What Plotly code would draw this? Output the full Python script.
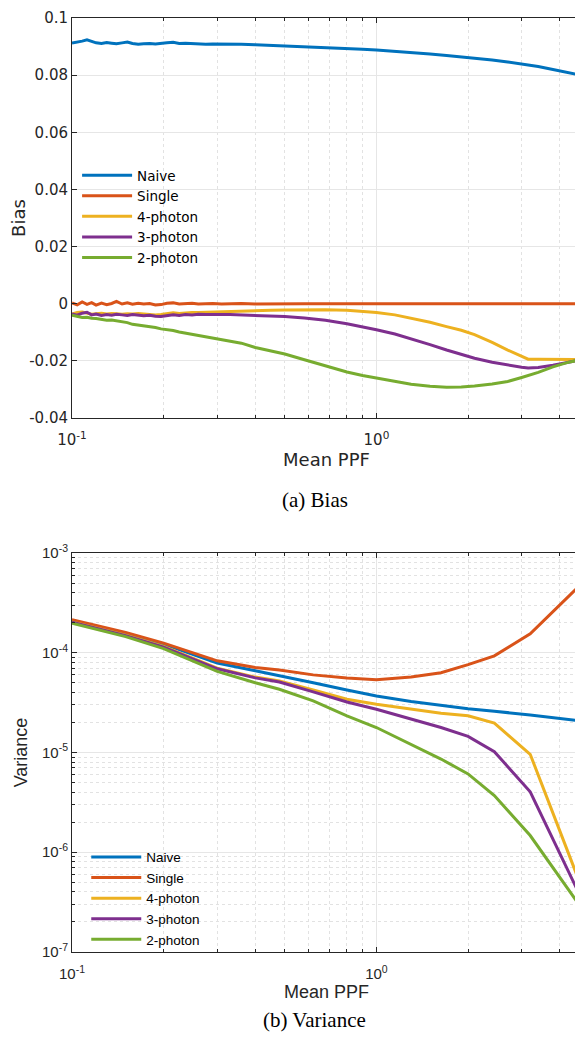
import plotly.graph_objects as go
from plotly.subplots import make_subplots

# ---- data ----
series_names = ['Naive', 'Single', '4-photon', '3-photon', '2-photon']
series_colors = ['#0072BD', '#D95319', '#EDB120', '#7E2F8E', '#77AC30']

# (a) Bias vs mean PPF
ppf_bias = [0.100, 0.104, 0.108, 0.112, 0.116, 0.120, 0.125, 0.130, 0.135,
            0.140, 0.146, 0.152, 0.158, 0.165, 0.172, 0.180, 0.188, 0.196,
            0.205, 0.215, 0.225, 0.236, 0.248, 0.26, 0.275, 0.29, 0.31,
            0.33, 0.36, 0.4, 0.45, 0.5, 0.58, 0.68, 0.8, 0.9, 1.0, 1.15,
            1.3, 1.5, 1.7, 1.9, 2.1, 2.4, 2.7, 3.0, 3.15, 3.4, 3.8, 4.2, 4.7]

bias_naive = [0.0912, 0.0915, 0.0919, 0.0924, 0.0917, 0.0913, 0.0911, 0.0914,
              0.0912, 0.0910, 0.0913, 0.0916, 0.0911, 0.0908, 0.0910, 0.0911,
              0.0909, 0.0910, 0.0913, 0.0915, 0.0911, 0.0912, 0.0910, 0.0909,
              0.0908, 0.0909, 0.0909, 0.0908, 0.0908, 0.0906, 0.0904, 0.0903,
              0.0901, 0.0898, 0.0894, 0.0891, 0.0888, 0.0884, 0.0880, 0.0874,
              0.0869, 0.0864, 0.0860, 0.0853, 0.0846, 0.0839, 0.0836, 0.0830,
              0.0820, 0.0811, 0.0800]
bias_single = [0.0003, -0.0004, 0.0006, -0.0002, 0.0004, -0.0005, 0.0002,
               -0.0003, 0.0001, 0.0008, -0.0001, 0.0003, -0.0002, 0.0002,
               -0.0001, 0.0001, -0.0004, -0.0003, 0.0002, 0.0003, -0.0001,
               0.0001, 0.0002, -0.0001, 0.0000, 0.0001, -0.0001, 0.0000,
               0.0001, -0.0001, 0.0000, 0.0001, 0.0, 0.0, 0.0, 0.0, 0.0,
               0.0, 0.0, 0.0, 0.0, 0.0, 0.0, 0.0, 0.0, 0.0, 0.0, 0.0, 0.0,
               0.0, 0.0]
bias_4ph = [-0.0036, -0.0031, -0.0029, -0.0034, -0.0037, -0.0035, -0.0033,
            -0.0036, -0.0034, -0.0035, -0.0037, -0.0035, -0.0036, -0.0034,
            -0.0036, -0.0037, -0.0039, -0.0038, -0.0034, -0.0032, -0.0034,
            -0.0032, -0.0031, -0.0031, -0.0030, -0.0029, -0.0028, -0.0027,
            -0.0026, -0.0024, -0.0023, -0.0022, -0.0021, -0.0021, -0.0023,
            -0.0026, -0.0031, -0.0039, -0.0050, -0.0065, -0.0080, -0.0093,
            -0.0108, -0.0135, -0.0162, -0.0185, -0.0194, -0.0194, -0.0195,
            -0.0195, -0.0195]
bias_3ph = [-0.0036, -0.0040, -0.0033, -0.0030, -0.0039, -0.0036, -0.0041,
            -0.0038, -0.0040, -0.0037, -0.0039, -0.0041, -0.0038, -0.0040,
            -0.0042, -0.0040, -0.0044, -0.0045, -0.0043, -0.0039, -0.0041,
            -0.0038, -0.0039, -0.0037, -0.0038, -0.0037, -0.0038, -0.0038,
            -0.0039, -0.0040, -0.0042, -0.0045, -0.0050, -0.0058, -0.0070,
            -0.0080, -0.0091, -0.0106, -0.0122, -0.0143, -0.0162, -0.0178,
            -0.0191, -0.0205, -0.0215, -0.0222, -0.0225, -0.0223, -0.0215,
            -0.0206, -0.0196]
bias_2ph = [-0.0040, -0.0045, -0.0048, -0.0047, -0.0051, -0.0052, -0.0055,
            -0.0058, -0.0057, -0.0060, -0.0061, -0.0066, -0.0072, -0.0075,
            -0.0077, -0.0079, -0.0083, -0.0088, -0.0090, -0.0094, -0.0099,
            -0.0103, -0.0108, -0.0112, -0.0118, -0.0122, -0.0127, -0.0132,
            -0.0138, -0.0153, -0.0165, -0.0176, -0.0196, -0.0217, -0.0239,
            -0.0251, -0.0260, -0.0272, -0.0282, -0.0289, -0.0292, -0.0291,
            -0.0288, -0.0281, -0.0272, -0.0258, -0.0252, -0.0240, -0.0221,
            -0.0207, -0.0195]

# (b) Variance vs mean PPF
ppf_var = [0.1, 0.15, 0.2, 0.3, 0.4, 0.48, 0.62, 0.8, 1.0, 1.3, 1.63, 2.0,
           2.44, 3.2, 4.7]
var_naive = [2.07e-4, 1.55e-4, 1.22e-4, 7.9e-5, 6.6e-5, 5.9e-5, 5.0e-5,
             4.23e-5, 3.68e-5, 3.24e-5, 2.95e-5, 2.75e-5, 2.59e-5, 2.38e-5,
             2.07e-5]
var_single = [2.15e-4, 1.6e-4, 1.25e-4, 8.3e-5, 7.1e-5, 6.7e-5, 6.0e-5,
              5.58e-5, 5.37e-5, 5.7e-5, 6.3e-5, 7.6e-5, 9.3e-5, 1.55e-4,
              4.85e-4]
var_4ph = [2.03e-4, 1.5e-4, 1.16e-4, 7.0e-5, 5.7e-5, 5.21e-5, 4.23e-5,
           3.42e-5, 3.04e-5, 2.71e-5, 2.47e-5, 2.33e-5, 1.97e-5, 9.6e-6,
           4.6e-7]
var_3ph = [2.02e-4, 1.48e-4, 1.14e-4, 6.9e-5, 5.6e-5, 5.09e-5, 4.05e-5,
           3.21e-5, 2.71e-5, 2.16e-5, 1.78e-5, 1.45e-5, 1.02e-5, 4.04e-6,
           3.5e-7]
var_2ph = [1.98e-4, 1.45e-4, 1.1e-4, 6.5e-5, 5.0e-5, 4.3e-5, 3.29e-5,
           2.33e-5, 1.78e-5, 1.21e-5, 8.6e-6, 6.1e-6, 3.7e-6, 1.47e-6,
           2.8e-7]

bias_series = [bias_naive, bias_single, bias_4ph, bias_3ph, bias_2ph]
var_series = [var_naive, var_single, var_4ph, var_3ph, var_2ph]

bias_ticks = [-0.04, -0.02, 0, 0.02, 0.04, 0.06, 0.08, 0.1]
bias_ticktext = ['-0.04', '-0.02', '0', '0.02', '0.04', '0.06', '0.08', '0.1']
var_ticks = [1e-7, 1e-6, 1e-5, 1e-4, 1e-3]
var_ticktext = ['10<sup>-7</sup>', '10<sup>-6</sup>', '10<sup>-5</sup>',
                '10<sup>-4</sup>', '10<sup>-3</sup>']
ppf_ticks = [0.1, 1]
ppf_ticktext = ['10<sup>-1</sup>', '10<sup>0</sup>']

# minor (2..9) ticks of the log axes
ppf_minor = [m * 10.0 ** e for e in (-1, 0) for m in range(2, 10)]
var_minor = [m * 10.0 ** e for e in range(-7, -3) for m in range(2, 10)]

# ---- figure ----
fig = make_subplots(rows=2, cols=1)

for name, color, ys in zip(series_names, series_colors, bias_series):
    fig.add_trace(go.Scatter(x=ppf_bias, y=ys, mode='lines', name=name,
                             line=dict(color=color, width=3),
                             legend='legend'), row=1, col=1)

for name, color, ys in zip(series_names, series_colors, var_series):
    fig.add_trace(go.Scatter(x=ppf_var, y=ys, mode='lines', name=name,
                             line=dict(color=color, width=3),
                             legend='legend2'), row=2, col=1)

TOP_FONT = 'DejaVu Sans'
BOT_FONT = 'Liberation Sans'
AX_COLOR = '#262626'
GRID = '#e6e6e6'
MINOR_GRID = '#e2e2e2'

axis_frame = dict(
    showline=True, linecolor=AX_COLOR, linewidth=1, mirror='ticks',
    ticks='inside', ticklen=5, tickcolor=AX_COLOR, automargin=False,
    showgrid=True, gridcolor=GRID, gridwidth=1, zeroline=False,
)
minor_log = dict(ticks='inside', ticklen=3, tickcolor=AX_COLOR,
                 showgrid=True, gridcolor=MINOR_GRID, griddash='dot')

fig.update_xaxes(axis_frame, type='log', range=[-1, 0.672],
                 tickvals=ppf_ticks, ticktext=ppf_ticktext,
                 ticklabelstandoff=8,
                 minor=dict(minor_log, tickvals=ppf_minor))

fig.update_xaxes(title=dict(text='Mean PPF', standoff=4,
                            font=dict(family=TOP_FONT, size=18, color=AX_COLOR)),
                 tickfont=dict(family=TOP_FONT, size=15, color=AX_COLOR),
                 row=1, col=1)
fig.update_xaxes(title=dict(text='Mean PPF', standoff=4,
                            font=dict(family=BOT_FONT, size=18, color=AX_COLOR)),
                 tickfont=dict(family=BOT_FONT, size=15, color=AX_COLOR),
                 row=2, col=1)

fig.update_yaxes(
    axis_frame, range=[-0.04, 0.1], tickvals=bias_ticks,
    ticktext=bias_ticktext,
    tickfont=dict(family=TOP_FONT, size=15, color=AX_COLOR),
    title=dict(text='Bias', standoff=22,
               font=dict(family=TOP_FONT, size=18, color=AX_COLOR)),
    row=1, col=1)

fig.update_yaxes(
    axis_frame, type='log', range=[-7, -3], tickvals=var_ticks,
    ticktext=var_ticktext,
    minor=dict(minor_log, tickvals=var_minor),
    tickfont=dict(family=BOT_FONT, size=15, color=AX_COLOR),
    title=dict(text='Variance', standoff=9,
               font=dict(family=BOT_FONT, size=18, color=AX_COLOR)),
    row=2, col=1)

# panel placement (plot area spans 934 px of height)
fig.update_layout(
    xaxis=dict(domain=[0, 1]), xaxis2=dict(domain=[0, 1]),
    yaxis=dict(domain=[0.5717, 1.0]), yaxis2=dict(domain=[0.0, 0.4272]),
)

legend_common = dict(
    bgcolor='rgba(255,255,255,0)', borderwidth=0, itemwidth=50,
    xanchor='left', yanchor='top', tracegroupgap=0,
)
fig.update_layout(
    legend=dict(legend_common, x=0.01, y=0.848,
                font=dict(family=TOP_FONT, size=13.5, color='#000000')),
    legend2=dict(legend_common, x=0.028, y=0.118,
                 font=dict(family=BOT_FONT, size=13.5, color='#000000')),
)

fig.add_annotation(text='(a) Bias', xref='paper', yref='paper',
                   x=0.477, y=0.484, showarrow=False,
                   font=dict(family='Liberation Serif', size=21, color='#000000'))
fig.add_annotation(text='(b) Variance', xref='paper', yref='paper',
                   x=0.477, y=-0.088, showarrow=False,
                   font=dict(family='Liberation Serif', size=21, color='#000000'))

# the page body adds an 8 px margin all round; keep the page inside 583x1050
fig.update_layout(
    width=575, height=1034,
    margin=dict(l=64, r=2, t=10, b=90),
    paper_bgcolor='white', plot_bgcolor='white',
    showlegend=True,
)

fig.write_html("out.html")
